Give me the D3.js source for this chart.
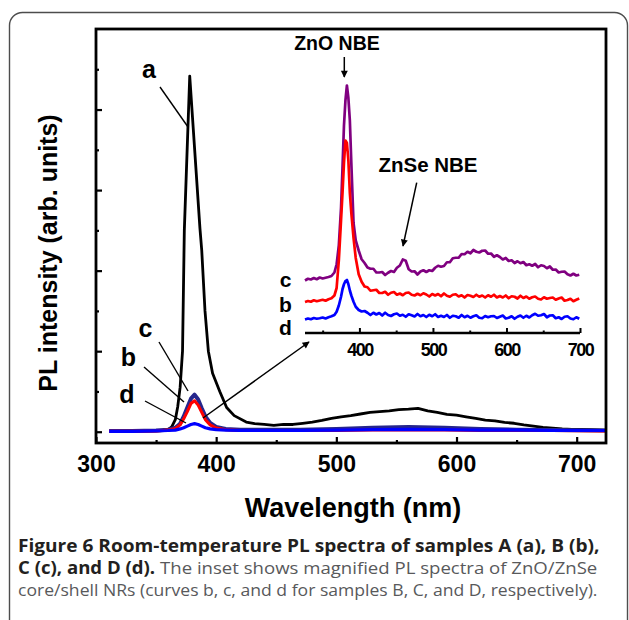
<!DOCTYPE html>
<html>
<head>
<meta charset="utf-8">
<script src="https://cdn.jsdelivr.net/npm/d3@7"></script>
<style>
  html, body { margin: 0; padding: 0; background: #fff; }
  svg { display: block; }
</style>
</head>
<body>
<svg id="chart" width="629" height="620"></svg>
<script>
// ---------------- DATA ----------------
// Main panel, curve a (sample A)
const mainWavelengthA = [311, 330, 345, 355, 360, 363, 366, 368, 370, 372, 373.5, 378, 386.5, 388, 390.7, 393.5, 397, 403, 408.7, 415, 425, 432, 440, 448, 456, 464, 472, 480, 488, 496, 504, 512, 520, 528, 536, 544, 552, 560, 568, 576, 584, 592, 600, 608, 616, 624, 632, 640, 648, 656, 664, 672, 680, 688, 696, 704, 712, 724];
const mainA = [0.02, 0.02, 0.02, 0.03, 0.05, 0.12, 0.3, 0.62, 1.1, 2.0, 5.0, 8.83, 5.05, 4.5, 3.0, 2.0, 1.45, 1.0, 0.6, 0.4, 0.24, 0.2, 0.18, 0.16, 0.18, 0.18, 0.21, 0.24, 0.28, 0.33, 0.37, 0.4, 0.44, 0.48, 0.5, 0.52, 0.55, 0.56, 0.58, 0.52, 0.48, 0.43, 0.41, 0.37, 0.33, 0.29, 0.27, 0.23, 0.21, 0.17, 0.14, 0.11, 0.09, 0.07, 0.06, 0.06, 0.05, 0.04];
// Main panel, curves b, c, d
const mainWavelengthBCD = [311, 330, 350, 360, 366, 370, 373, 376, 379, 382, 385, 388, 391, 395, 400, 408, 420, 440, 470, 500, 530, 560, 590, 620, 650, 680, 724];
const mainC = [0.02, 0.02, 0.03, 0.05, 0.1, 0.2, 0.38, 0.6, 0.82, 0.92, 0.8, 0.58, 0.38, 0.22, 0.12, 0.07, 0.05, 0.05, 0.05, 0.07, 0.1, 0.12, 0.1, 0.07, 0.05, 0.04, 0.03];
const mainB = [0.01, 0.01, 0.02, 0.04, 0.08, 0.17, 0.32, 0.5, 0.7, 0.77, 0.66, 0.48, 0.3, 0.17, 0.09, 0.05, 0.03, 0.03, 0.03, 0.03, 0.04, 0.04, 0.04, 0.03, 0.03, 0.03, 0.02];
const mainD = [0.01, 0.01, 0.02, 0.03, 0.04, 0.07, 0.1, 0.14, 0.18, 0.2, 0.18, 0.14, 0.1, 0.07, 0.05, 0.04, 0.03, 0.03, 0.03, 0.04, 0.05, 0.06, 0.05, 0.04, 0.04, 0.03, 0.03];

// Inset (magnified, offset) curves
const insetWavelength = [326, 330, 334, 338, 342, 346, 350, 354, 358, 362,
  366, 369, 372, 375, 377, 379, 381, 383, 385, 387, 389, 392, 395, 399, 403,
  407, 411, 415, 419, 423, 427, 431, 435, 439, 443, 447, 451, 455, 459, 463, 467, 471, 475, 479, 483, 487, 491, 495, 499,
  503, 507, 511, 515, 519, 523, 527, 531, 535, 539, 543, 547, 551, 555, 559, 563, 567, 571, 575, 579, 583, 587, 591, 595, 599,
  603, 607, 611, 615, 619, 623, 627, 631, 635, 639, 643, 647, 651, 655, 659, 663, 667, 671, 675, 679, 683, 687, 691, 695, 699];
const insetC = [2.1, 2.17, 2.14, 2.2, 2.15, 2.22, 2.18, 2.21, 2.24, 2.28,
  2.42, 2.75, 3.5, 5.0, 6.6, 8.3, 9.3, 9.9, 9.4, 8.5, 6.8, 4.4, 3.7, 3.3, 2.95,
  2.80, 2.62, 2.57, 2.57, 2.42, 2.42, 2.44, 2.32, 2.41, 2.48, 2.44, 2.61, 2.70, 2.94, 2.89, 2.55, 2.46, 2.47, 2.34, 2.46, 2.51, 2.44, 2.51, 2.48,
  2.61, 2.69, 2.65, 2.68, 2.83, 2.83, 2.99, 3.01, 3.01, 3.16, 3.15, 3.25, 3.19, 3.32, 3.25, 3.22, 3.29, 3.30, 3.17, 3.18, 3.05, 3.11, 3.04, 2.94, 3.00,
  2.88, 2.91, 2.80, 2.87, 2.79, 2.84, 2.71, 2.75, 2.69, 2.76, 2.63, 2.71, 2.68, 2.59, 2.66, 2.53, 2.54, 2.42, 2.45, 2.46, 2.35, 2.30, 2.37, 2.30, 2.33];
const insetB = [1.24, 1.28, 1.25, 1.31, 1.27, 1.3, 1.33, 1.29, 1.35, 1.39,
  1.5, 1.8, 2.9, 4.5, 5.6, 6.8, 7.7, 7.6, 6.9, 5.6, 4.8, 3.8, 3.0, 2.35, 2.05,
  1.86, 1.83, 1.69, 1.71, 1.73, 1.60, 1.60, 1.65, 1.53, 1.61, 1.64, 1.53, 1.58, 1.51, 1.60, 1.62, 1.53, 1.50, 1.57, 1.51, 1.59, 1.54, 1.46, 1.56,
  1.50, 1.56, 1.47, 1.58, 1.49, 1.45, 1.53, 1.55, 1.46, 1.51, 1.42, 1.52, 1.49, 1.44, 1.53, 1.45, 1.50, 1.42, 1.51, 1.45, 1.53, 1.42, 1.48, 1.42, 1.50,
  1.39, 1.47, 1.45, 1.38, 1.49, 1.40, 1.46, 1.37, 1.43, 1.46, 1.37, 1.34, 1.43, 1.37, 1.40, 1.42, 1.33, 1.38, 1.42, 1.29, 1.32, 1.37, 1.27, 1.33, 1.38];
const insetD = [0.54, 0.58, 0.55, 0.6, 0.57, 0.59, 0.62, 0.58, 0.63, 0.67,
  0.72, 0.85, 1.1, 1.45, 1.75, 1.95, 2.08, 2.12, 1.95, 1.7, 1.5, 1.25, 1.05, 0.92, 0.86,
  0.88, 0.81, 0.72, 0.81, 0.74, 0.80, 0.70, 0.81, 0.72, 0.68, 0.75, 0.78, 0.69, 0.73, 0.65, 0.75, 0.71, 0.66, 0.76, 0.67, 0.72, 0.64, 0.73, 0.67,
  0.75, 0.64, 0.69, 0.64, 0.72, 0.61, 0.69, 0.67, 0.61, 0.72, 0.63, 0.69, 0.61, 0.67, 0.71, 0.61, 0.59, 0.68, 0.63, 0.67, 0.68, 0.60, 0.65, 0.70, 0.58,
  0.61, 0.67, 0.57, 0.65, 0.70, 0.61, 0.69, 0.62, 0.71, 0.77, 0.69, 0.71, 0.76, 0.63, 0.70, 0.71, 0.59, 0.63, 0.56, 0.65, 0.67, 0.58, 0.55, 0.63, 0.57];

// Ticks and labels
const xMajorTicks = [300, 400, 500, 600, 700];
const xMinorTicks = [350, 450, 550, 650];
const yMajorTicks = [0, 2, 4, 6, 8];
const yMinorTicks = [1, 3, 5, 7, 9];
const insetMajorTicks = [400, 500, 600, 700];
const insetMinorTicks = [350, 450, 550, 650];
const xTitle = "Wavelength (nm)";
const yTitle = "PL intensity (arb. units)";
const captionLines = [
  [{t: "Figure 6 Room-temperature PL spectra of samples A (a), B (b),", b: true}],
  [{t: "C (c), and D (d).", b: true}, {t: " The inset shows magnified PL spectra of ZnO/ZnSe", b: false}],
  [{t: "core/shell NRs (curves b, c, and d for samples B, C, and D, respectively).", b: false}]
];

// ---------------- DRAW ----------------
const svg = d3.select("#chart");
const FONT = "'Liberation Sans', Arial, Helvetica, sans-serif";

// outer rounded frame
svg.append("rect").attr("x", 9.5).attr("y", 12.5).attr("width", 618).attr("height", 625)
  .attr("rx", 13).attr("fill", "none").attr("stroke", "#4d4d4d").attr("stroke-width", 1.4);

const defs = svg.append("defs");
defs.append("marker").attr("id", "ah").attr("viewBox", "0 0 10 10").attr("refX", 9).attr("refY", 5)
  .attr("markerWidth", 9).attr("markerHeight", 7).attr("markerUnits", "userSpaceOnUse").attr("orient", "auto")
  .append("path").attr("d", "M0,0 L10,5 L0,10 z").attr("fill", "#000");

// Main scales
const L = 96, R = 606, T = 29, B = 443;
const x = d3.scaleLinear().domain([300, 724.4]).range([L, R]);
const y = d3.scaleLinear().domain([-0.28, 10]).range([B, T]);

const line = (xs, sx, sy) => d3.line().x((d, i) => sx(xs[i])).y(d => sy(d)).curve(d3.curveLinear);

const plot = svg.append("g");
plot.append("path").datum(mainA).attr("d", line(mainWavelengthA, x, y))
  .attr("fill", "none").attr("stroke", "#000").attr("stroke-width", 2.8).attr("stroke-linejoin", "round");
plot.append("path").datum(mainC).attr("d", line(mainWavelengthBCD, x, y))
  .attr("fill", "none").attr("stroke", "#26268c").attr("stroke-width", 4).attr("stroke-linejoin", "round");
plot.append("path").datum(mainB).attr("d", line(mainWavelengthBCD, x, y))
  .attr("fill", "none").attr("stroke", "#ff0000").attr("stroke-width", 3).attr("stroke-linejoin", "round");
plot.append("path").datum(mainD).attr("d", line(mainWavelengthBCD, x, y))
  .attr("fill", "none").attr("stroke", "#0000ff").attr("stroke-width", 3.2).attr("stroke-linejoin", "round");

// Main axes
const gx = svg.append("g").attr("transform", `translate(0,${B})`)
  .call(d3.axisBottom(x).tickValues(xMajorTicks).tickSize(-6).tickPadding(13).tickFormat(d3.format("d")));
const gxm = svg.append("g").attr("transform", `translate(0,${B})`)
  .call(d3.axisBottom(x).tickValues(xMinorTicks).tickSize(-3).tickFormat(""));
const gy = svg.append("g").attr("transform", `translate(${L},0)`)
  .call(d3.axisLeft(y).tickValues(yMajorTicks).tickSize(-6).tickFormat(""));
const gym = svg.append("g").attr("transform", `translate(${L},0)`)
  .call(d3.axisLeft(y).tickValues(yMinorTicks).tickSize(-3).tickFormat(""));
[gx, gxm, gy, gym].forEach(g => {
  g.select(".domain").remove();
  g.selectAll(".tick line").attr("stroke", "#000").attr("stroke-width", 2.2);
});
gx.selectAll(".tick text").attr("font-family", FONT).attr("font-weight", "bold")
  .attr("font-size", 23).attr("fill", "#000");

// frame
svg.append("rect").attr("x", L).attr("y", T).attr("width", R - L).attr("height", B - T)
  .attr("fill", "none").attr("stroke", "#000").attr("stroke-width", 2.8);

// titles
svg.append("text").attr("x", 353).attr("y", 517).attr("text-anchor", "middle")
  .attr("font-family", FONT).attr("font-weight", "bold").attr("font-size", 27).text(xTitle);
svg.append("text").attr("transform", "translate(57,253) rotate(-90)").attr("text-anchor", "middle")
  .attr("font-family", FONT).attr("font-weight", "bold").attr("font-size", 25).text(yTitle);

// Main annotations
const lab = (t, cx, by, fs) => svg.append("text").attr("x", cx).attr("y", by).attr("text-anchor", "middle")
  .attr("font-family", FONT).attr("font-weight", "bold").attr("font-size", fs).text(t);
const seg = (x1, y1, x2, y2, w, arrow) => {
  const s = svg.append("line").attr("x1", x1).attr("y1", y1).attr("x2", x2).attr("y2", y2)
    .attr("stroke", "#000").attr("stroke-width", w);
  if (arrow) s.attr("marker-end", "url(#ah)");
  return s;
};
lab("a", 149, 78, 25);
seg(160, 87, 188, 127, 1.4);
lab("c", 145.5, 337, 25);
seg(159, 342, 188, 391, 1.4);
lab("b", 128.5, 366, 25);
seg(144, 367, 184, 402, 1.4);
lab("d", 127, 403, 25);
seg(145, 401, 186, 423, 1.4);
seg(203, 418, 309, 342, 1.5, true);

// ---------------- INSET ----------------
const ix = d3.scaleLinear().domain([326, 700]).range([305, 580]);
const iy = d3.scaleLinear().domain([0, 10]).range([333, 83]);

svg.append("path").datum(insetC).attr("d", line(insetWavelength, ix, iy))
  .attr("fill", "none").attr("stroke", "#800080").attr("stroke-width", 2.7).attr("stroke-linejoin", "round");
svg.append("path").datum(insetB).attr("d", line(insetWavelength, ix, iy))
  .attr("fill", "none").attr("stroke", "#ff0000").attr("stroke-width", 2.7).attr("stroke-linejoin", "round");
svg.append("path").datum(insetD).attr("d", line(insetWavelength, ix, iy))
  .attr("fill", "none").attr("stroke", "#0000ff").attr("stroke-width", 2.7).attr("stroke-linejoin", "round");

const gi = svg.append("g").attr("transform", "translate(0,333)")
  .call(d3.axisBottom(ix).tickValues(insetMajorTicks).tickSize(-5).tickPadding(10).tickFormat(d3.format("d")));
const gim = svg.append("g").attr("transform", "translate(0,333)")
  .call(d3.axisBottom(ix).tickValues(insetMinorTicks).tickSize(-2.5).tickFormat(""));
[gi, gim].forEach(g => {
  g.select(".domain").remove();
  g.selectAll(".tick line").attr("stroke", "#000").attr("stroke-width", 2);
});
gi.selectAll(".tick text").attr("font-family", FONT).attr("font-weight", "bold")
  .attr("font-size", 18).attr("letter-spacing", "-1.5px").attr("fill", "#000");
svg.append("line").attr("x1", ix(326)).attr("x2", ix(700)).attr("y1", 333).attr("y2", 333)
  .attr("stroke", "#000").attr("stroke-width", 2.6);

lab("c", 285.5, 287, 21);
lab("b", 285.5, 311.5, 21);
lab("d", 285.5, 335, 21);
lab("ZnO NBE", 337, 50, 19.5);
seg(344.3, 57, 344.3, 77, 1.5, true);
lab("ZnSe NBE", 428, 172, 20.5);
seg(416.7, 182.7, 403, 246, 1.5, true);

// ---------------- CAPTION ----------------
const capFont = "'Open Sans', 'Noto Sans', sans-serif";
const capBaselines = [552, 574, 596];
const capTargets = [582, 580, 580];
captionLines.forEach((parts, i) => {
  const t = svg.append("text").attr("font-family", capFont).attr("font-size", 17);
  parts.forEach(p => t.append("tspan").attr("font-weight", p.b ? "bold" : "normal")
    .attr("fill", p.b ? "#231f20" : "#58595b").text(p.t));
  const w = t.node().getComputedTextLength();
  t.attr("transform", `translate(18,${capBaselines[i]}) scale(${capTargets[i] / w},1)`);
});
</script>
</body>
</html>
